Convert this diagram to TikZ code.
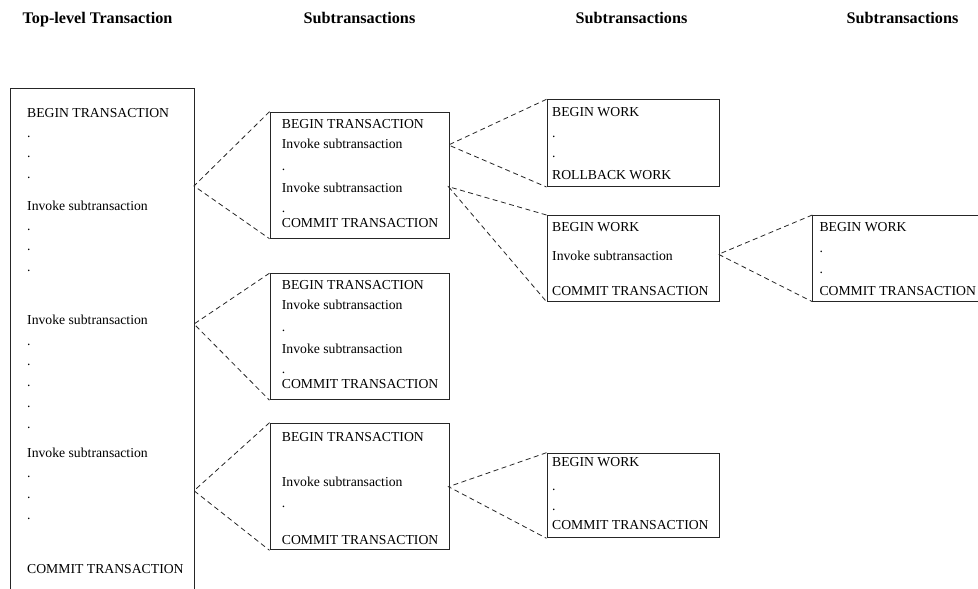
\documentclass[tikz,border=0pt]{standalone}
\usepackage{fontspec}
\setmainfont{Liberation Serif}
\begin{document}
\tikzset{
  box/.style={draw=black!85, line width=1pt, inner sep=0pt, anchor=north west},
  txt/.style={font=\fontsize{13.7}{16}\selectfont, anchor=base west, inner sep=0pt},
  head/.style={font=\fontsize{16.2}{19}\selectfont\bfseries, anchor=base, inner sep=0pt},
  link/.style={draw=black!85, line width=0.8pt, dash pattern=on 5pt off 3.5pt},
}
\begin{tikzpicture}[x=1pt,y=-1pt]
\useasboundingbox (0,0) rectangle (978,589);
\clip (0,0) rectangle (978,589);

% column headings
\node[head] (h0) at (97.5,23.3) {Top-level Transaction};
\node[head] (h1) at (359.5,23.3) {Subtransactions};
\node[head] (h2) at (631.5,23.3) {Subtransactions};
\node[head] (h3) at (902.5,23.3) {Subtransactions};

% top-level transaction (runs off the bottom edge)
\node[box, minimum width=184.5pt, minimum height=540pt] (top) at (9.5,87.5) {};
\foreach \y/\t [count=\i] in {117/BEGIN TRANSACTION, 137/., 157/., 178/.,
    210/Invoke subtransaction, 230/., 250/., 271/.,
    324/Invoke subtransaction, 345/., 365/., 386/., 407/., 428/.,
    457/Invoke subtransaction, 477/., 498/., 519/.,
    573/COMMIT TRANSACTION}
  \node[txt] (top-\i) at (27,\y) {\t};

% first-level subtransactions
\node[box, minimum width=179pt, minimum height=126pt] (m1) at (269.5,111.7) {};
\foreach \y/\t [count=\i] in {128/BEGIN TRANSACTION, 148/Invoke subtransaction,
    170/., 192/Invoke subtransaction, 212/., 227/COMMIT TRANSACTION}
  \node[txt] (m1-\i) at (281.7,\y) {\t};

\node[box, minimum width=179pt, minimum height=126pt] (m2) at (269.5,273.2) {};
\foreach \y/\t [count=\i] in {289.5/BEGIN TRANSACTION, 309.5/Invoke subtransaction,
    331.5/., 353.5/Invoke subtransaction, 373.5/., 388.5/COMMIT TRANSACTION}
  \node[txt] (m2-\i) at (281.7,\y) {\t};

\node[box, minimum width=179pt, minimum height=126.6pt] (m3) at (269.5,422.7) {};
\foreach \y/\t [count=\i] in {441/BEGIN TRANSACTION, 486/Invoke subtransaction,
    507/., 544/COMMIT TRANSACTION}
  \node[txt] (m3-\i) at (281.7,\y) {\t};

% second-level subtransactions
\node[box, minimum width=172pt, minimum height=86.7pt] (wa) at (546.5,99.3) {};
\foreach \y/\t [count=\i] in {116.7/BEGIN WORK, 137.5/., 157.5/., 179.3/ROLLBACK WORK}
  \node[txt] (wa-\i) at (552,\y) {\t};

\node[box, minimum width=172pt, minimum height=85.7pt] (wb) at (546.5,215) {};
\foreach \y/\t [count=\i] in {231.7/BEGIN WORK, 260.7/Invoke subtransaction,
    295/COMMIT TRANSACTION}
  \node[txt] (wb-\i) at (552,\y) {\t};

\node[box, minimum width=172pt, minimum height=84.6pt] (wc) at (546.5,452.7) {};
\foreach \y/\t [count=\i] in {466.7/BEGIN WORK, 490/., 510.5/., 529/COMMIT TRANSACTION}
  \node[txt] (wc-\i) at (552,\y) {\t};

% third-level subtransaction (runs off the right edge)
\node[box, minimum width=200pt, minimum height=85.7pt] (wd) at (812.3,215) {};
\foreach \y/\t [count=\i] in {231.7/BEGIN WORK, 252.5/., 273/., 295/COMMIT TRANSACTION}
  \node[txt] (wd-\i) at (819.3,\y) {\t};

% invocation points
\coordinate (pt1) at (194,186);
\coordinate (pt2) at (194,324);
\coordinate (pt3) at (194,490.7);
\coordinate (pm1a) at (448.5,145);
\coordinate (pm1b) at (448.5,186.7);
\coordinate (pm3) at (448.5,486.7);
\coordinate (pwb) at (718.5,254.3);

% dashed fans from invocation point to the called block
\draw[link] (m1.north west) -- (pt1) -- (m1.south west);
\draw[link] (m2.north west) -- (pt2) -- (m2.south west);
\draw[link] (m3.north west) -- (pt3) -- (m3.south west);
\draw[link] (wa.north west) -- (pm1a) -- (wa.south west);
\draw[link] (wb.north west) -- (pm1b) -- (wb.south west);
\draw[link] (wc.north west) -- (pm3) -- (wc.south west);
\draw[link] (wd.north west) -- (pwb) -- (wd.south west);
\end{tikzpicture}
\end{document}
